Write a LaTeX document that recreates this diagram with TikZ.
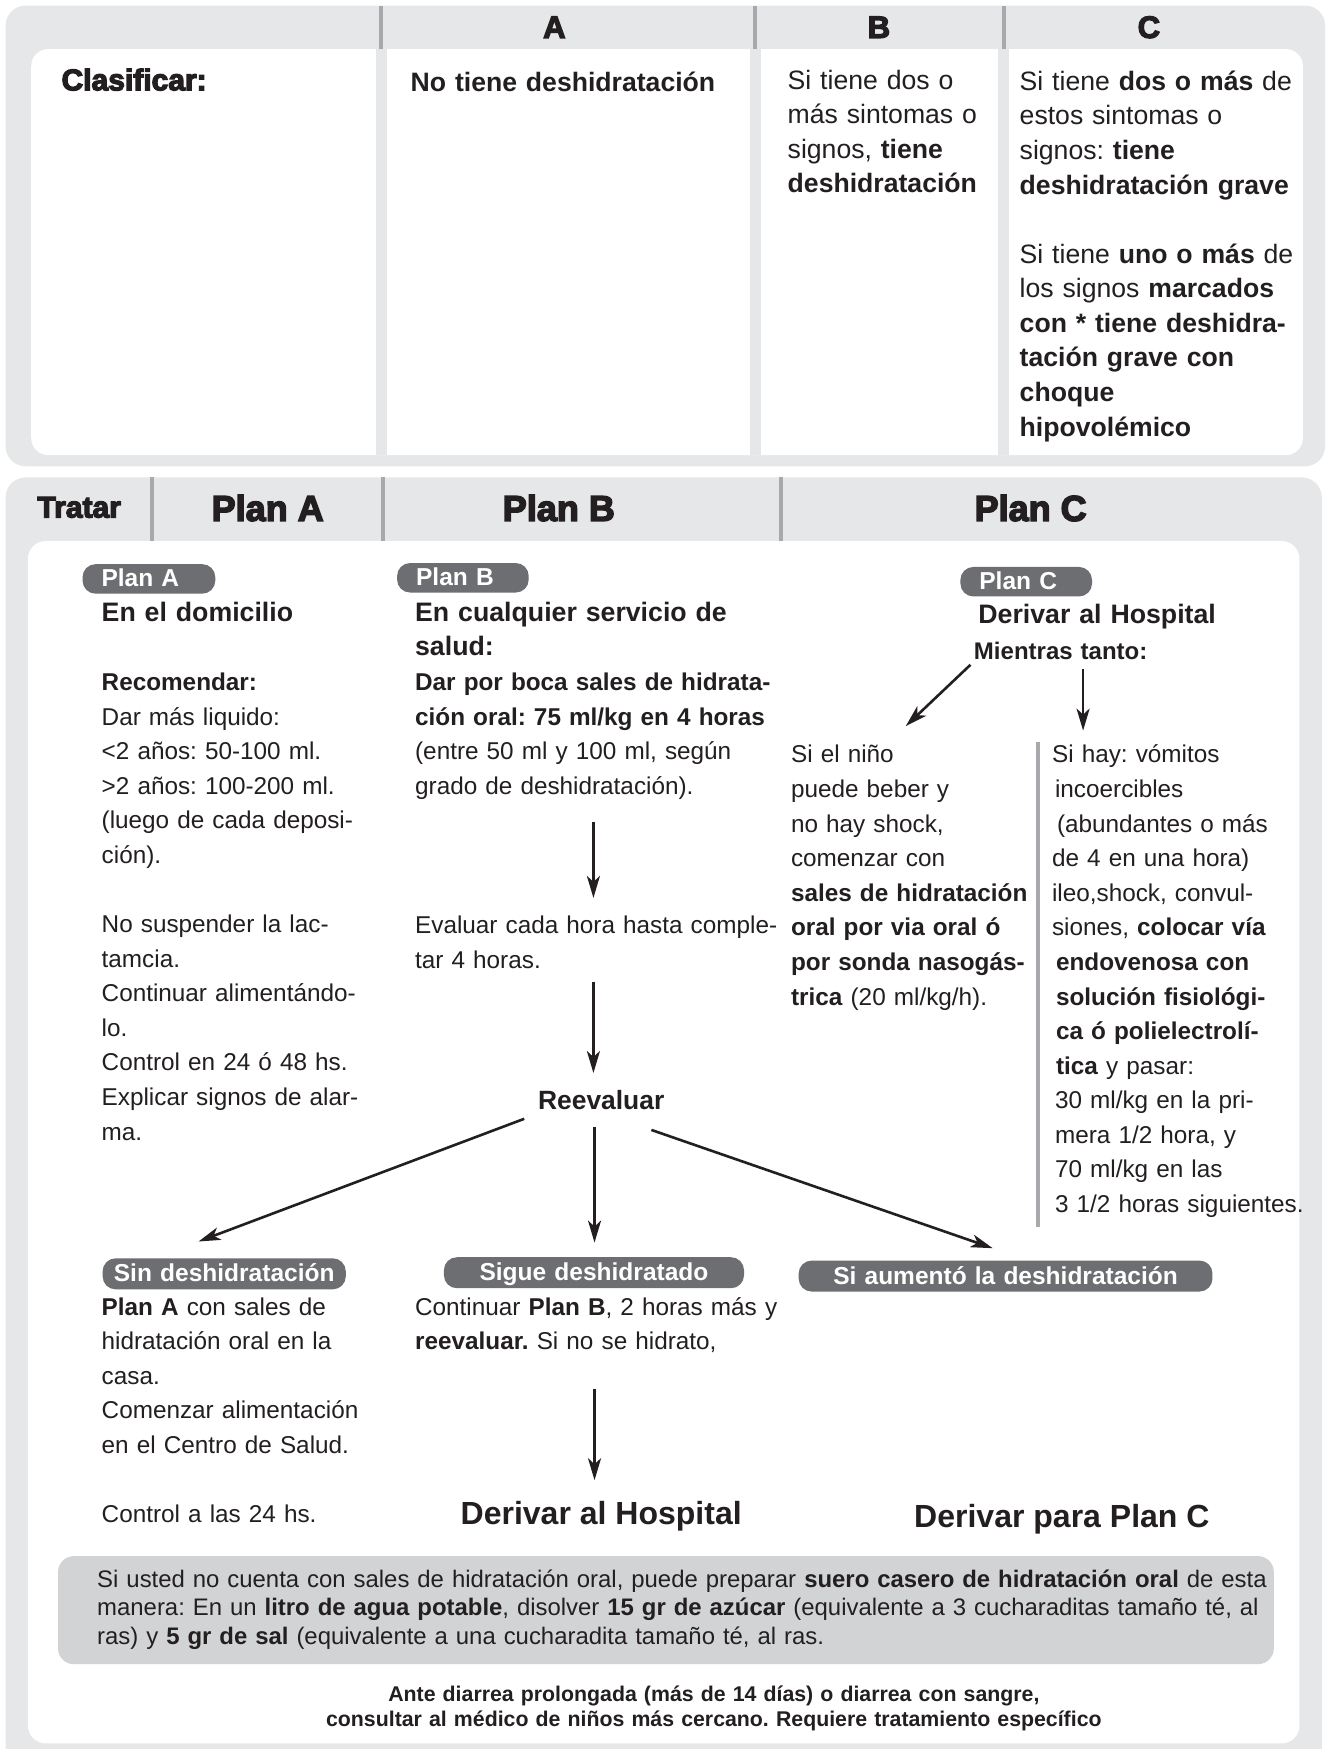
\documentclass[tikz,border=0pt]{standalone}
\usepackage{fontspec}
\setmainfont{Liberation Sans}
\newfontfamily\heavyfont[BoldFeatures={FakeBold=4}]{Liberation Sans}
\usetikzlibrary{arrows.meta}
\definecolor{panelgray}{HTML}{E6E7E8}
\definecolor{sepgray}{HTML}{A7A9AC}
\definecolor{pillgray}{HTML}{6D6E71}
\definecolor{boxgray}{HTML}{D1D3D4}
\definecolor{ink}{HTML}{231F20}
\newcommand\myBody{\fontsize{24.3pt}{34.57pt}\selectfont}
\newcommand\myTab{\fontsize{26.6pt}{34.57pt}\selectfont}
\newcommand\myBox{\fontsize{23.9pt}{28.4pt}\selectfont}
\newcommand\myFoot{\bfseries\fontsize{21.3pt}{25.6pt}\selectfont}
\newcommand\myHead{\bfseries\fontsize{26.7pt}{34.57pt}\selectfont}
\frenchspacing
\begin{document}
\frenchspacing
\begin{tikzpicture}[x=1.1151pt,y=-1.1151pt,
  txt/.style={anchor=base west, inner sep=0pt, align=left, text width=430pt, font=\myBody, text=ink},
  tabtxt/.style={txt, font=\myTab},
  heavy/.style={font=\heavyfont\bfseries\fontsize{#1}{#1}\selectfont, inner sep=0pt, text=ink},
  pill/.style={fill=pillgray, rounded corners=13pt, text=white, font=\bfseries\fontsize{24.5pt}{24.5pt}\selectfont, inner xsep=0pt, inner ysep=0pt, text height=19pt, text depth=3pt},
  arr/.style={draw=ink, line width=2.6pt, -{Stealth[length=22pt,width=13pt,inset=6pt]}},
  sep/.style={sepgray, line width=4pt}
]
\useasboundingbox (0,0) rectangle (1191,1568);
\clip (0,0) rectangle (1191,1568);
% ---------- top panel ----------
\fill[panelgray, rounded corners=20pt] (5,5) rectangle (1188,418);
\fill[white, rounded corners=17pt] (28,44) rectangle (1168,408);
\fill[panelgray] (337,44) rectangle (347,408);
\fill[panelgray] (672,44) rectangle (682,408);
\fill[panelgray] (895,44) rectangle (905,408);
\foreach \x in {342,677,900} \draw[sep] (\x,5) -- (\x,44);
\node[heavy=31pt, anchor=base] (hA) at (497,34) {A};
\node[heavy=31pt, anchor=base] (hB) at (788,34) {B};
\node[heavy=31pt, anchor=base] (hC) at (1030,34) {C};
\node[heavy=30pt, anchor=base west] (clas) at (55,81) {Clasificar:};
\node[tabtxt, font=\myTab\bfseries] (tA) at (368,82) {No tiene deshidratación};
\node[tabtxt] (tB) at (706,80) {Si tiene dos o\\ más sintomas o\\ signos, \textbf{tiene}\\ \textbf{deshidratación}};
\node[tabtxt] (tC) at (914,81) {Si tiene \textbf{dos o más} de\\ estos sintomas o\\ signos: \textbf{tiene}\\ \textbf{deshidratación grave}\\[34.57pt] Si tiene \textbf{uno o más} de\\ los signos \textbf{marcados}\\ \textbf{con * tiene deshidra-}\\ \textbf{tación grave con}\\ \textbf{choque}\\ \textbf{hipovolémico}};
% ---------- bottom panel ----------
\fill[panelgray, rounded corners=20pt] (5,428) rectangle (1185,1600);
\fill[white, rounded corners=18pt] (25,485) rectangle (1165,1563);
\foreach \x in {136,343,700} \draw[sep] (\x,428) -- (\x,485);
\node[heavy=30pt, anchor=base] (trat) at (71,464) {Tratar};
\node[heavy=36pt, anchor=base] (hpA) at (240,467) {Plan A};
\node[heavy=36pt, anchor=base] (hpB) at (501,467) {Plan B};
\node[heavy=36pt, anchor=base] (hpC) at (924,467) {Plan C};
% pills
\node[pill, text width=132.7pt, minimum height=29.5pt, align=left] (pA) at (133.5,519) {\hspace*{19pt}Plan A};
\node[pill, text width=131.6pt, minimum height=29.5pt, align=left] (pB) at (415,518) {\hspace*{19pt}Plan B};
\node[pill, text width=131.6pt, minimum height=29.5pt, align=left] (pC) at (920,521.5) {\hspace*{19pt}Plan C};
% Plan A column
\node[txt, font=\myHead] (aHead) at (91,557) {En el domicilio};
\node[txt] (aBody) at (91,619) {\textbf{Recomendar:}\\ Dar más liquido:\\ <2 años: 50-100 ml.\\ >2 años: 100-200 ml.\\ (luego de cada deposi-\\ ción).\\[34.57pt] No suspender la lac-\\ tamcia.\\ Continuar alimentándo-\\ lo.\\ Control en 24 ó 48 hs.\\ Explicar signos de alar-\\ ma.};
% Plan B column
\node[txt, font=\myHead] (bHead) at (372,557) {En cualquier servicio de\\ salud:};
\node[txt] (bBody) at (372,619) {\textbf{Dar por boca sales de hidrata-}\\ \textbf{ción oral: 75 ml/kg en 4 horas}\\ (entre 50 ml y 100 ml, según\\ grado de deshidratación).};
\node[txt] (bEval) at (372,837) {Evaluar cada hora hasta comple-\\ tar 4 horas.};
\node[font=\bfseries\fontsize{26.4pt}{30pt}\selectfont, text=ink, inner sep=0pt] (reev) at (539,986) {Reevaluar};
% Plan C column
\node[txt, font=\myHead] (cHead) at (877,559) {Derivar al Hospital};
\node[txt, font=\bfseries\fontsize{24pt}{30pt}\selectfont] (cMt) at (873,591) {Mientras tanto:};
\node[txt] (cL) at (709,684) {Si el niño\\ puede beber y\\ no hay shock,\\ comenzar con\\ \textbf{sales de hidratación}\\ \textbf{oral por via oral ó}\\ \textbf{por sonda nasogás-}\\ \textbf{trica} (20 ml/kg/h).};
\draw[sep] (931,665) -- (931,1100);
\node[txt] (cR) at (943,684) {Si hay: vómitos\\ \hspace*{3pt}incoercibles\\ \hspace*{5pt}(abundantes o más\\ de 4 en una hora)\\ ileo,shock, convul-\\ siones, \textbf{colocar vía}\\ \hspace*{4pt}\textbf{endovenosa con}\\ \hspace*{4pt}\textbf{solución fisiológi-}\\ \hspace*{4pt}\textbf{ca ó polielectrolí-}\\ \hspace*{4pt}\textbf{tica} y pasar:\\ \hspace*{3pt}30 ml/kg en la pri-\\ \hspace*{3pt}mera 1/2 hora, y\\ \hspace*{3pt}70 ml/kg en las\\ \hspace*{3pt}3 1/2 horas siguientes.};
% outcome pills
\node[pill, text width=243.1pt, minimum height=31pt, align=center] (sinD) at (201,1142) {Sin deshidratación};
\node[pill, text width=300pt, minimum height=31pt, align=center] (sigue) at (532.5,1141) {Sigue deshidratado};
\node[pill, text width=413.7pt, minimum height=31pt, align=center] (aum) at (901.5,1144) {Si aumentó la deshidratación};
\node[txt] (sinT) at (91,1179) {\textbf{Plan A} con sales de\\ hidratación oral en la\\ casa.\\ Comenzar alimentación\\ en el Centro de Salud.\\[34.57pt] Control a las 24 hs.};
\node[txt] (sigT) at (372,1179) {Continuar \textbf{Plan B}, 2 horas más y\\ \textbf{reevaluar.} Si no se hidrato,};
\node[font=\bfseries\fontsize{32pt}{36pt}\selectfont, text=ink, anchor=base, inner sep=0pt] (derH) at (539,1367) {Derivar al Hospital};
\node[font=\bfseries\fontsize{32pt}{36pt}\selectfont, text=ink, anchor=base, inner sep=0pt] (derC) at (952,1369) {Derivar para Plan C};
% arrows
\coordinate (b1s) at (532,737); \coordinate (b1e) at (532,805);
\coordinate (b2s) at (532,880); \coordinate (b2e) at (532,962);
\coordinate (r1s) at (470,1003); \coordinate (r1e) at (178,1113);
\coordinate (r2s) at (533,1010); \coordinate (r2e) at (533,1114);
\coordinate (r3s) at (584,1013); \coordinate (r3e) at (890,1119);
\coordinate (s1s) at (533,1245); \coordinate (s1e) at (533,1327);
\coordinate (m1s) at (870,596); \coordinate (m1e) at (812,651);
\coordinate (m2s) at (971,600); \coordinate (m2e) at (971,655);
\draw[arr] (b1s) -- (b1e);
\draw[arr] (b2s) -- (b2e);
\draw[arr] (r1s) -- (r1e);
\draw[arr] (r2s) -- (r2e);
\draw[arr] (r3s) -- (r3e);
\draw[arr] (s1s) -- (s1e);
\draw[arr] (m1s) -- (m1e);
\draw[arr] (m2s) -- (m2e);
% bottom box
\fill[boxgray, rounded corners=16pt] (52,1395) rectangle (1142,1492);
\node[txt, font=\myBox, text width=1200pt] (boxT) at (87,1423) {Si usted no cuenta con sales de hidratación oral, puede preparar \textbf{suero casero de hidratación oral} de esta\\ manera: En un \textbf{litro de agua potable}, disolver \textbf{15 gr de azúcar} (equivalente a 3 cucharaditas tamaño té, al\\ ras) y \textbf{5 gr de sal} (equivalente a una cucharadita tamaño té, al ras.};
\node[font=\myFoot, text=ink, text width=1000pt, align=center, anchor=base, inner sep=0pt] (foot) at (640,1525) {Ante diarrea prolongada (más de 14 días) o diarrea con sangre,\\ consultar al médico de niños más cercano. Requiere tratamiento específico};
\end{tikzpicture}
\end{document}
